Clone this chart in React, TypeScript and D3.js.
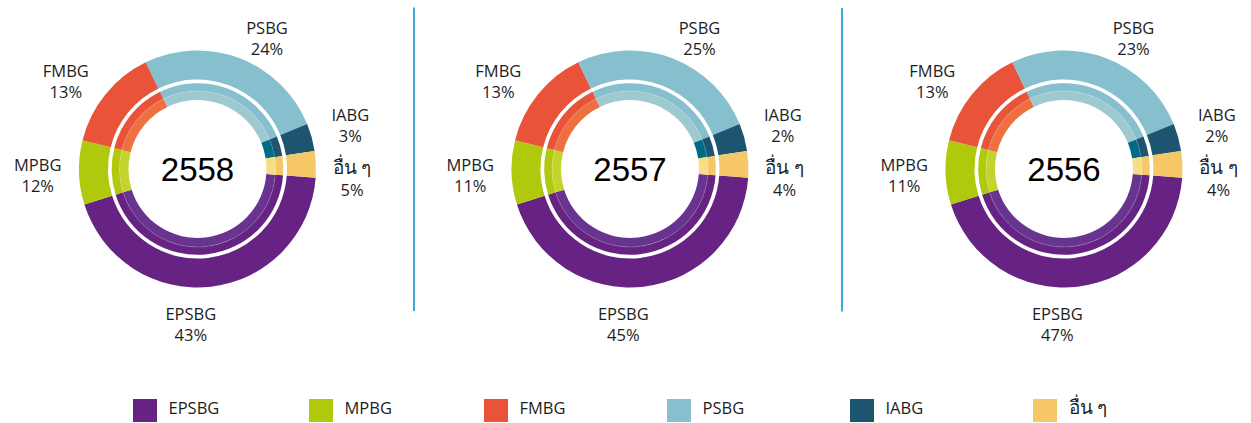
import React from 'react';
import * as d3 from 'd3';

// ---- data ----
const groups = ['EPSBG', 'MPBG', 'FMBG', 'PSBG', 'IABG', 'อื่น ๆ'];
const years = ['2558', '2557', '2556'];
const pct2558 = [43, 12, 13, 24, 3, 5];
const pct2557 = [45, 11, 13, 25, 2, 4];
const pct2556 = [47, 11, 13, 23, 2, 4];
// arc sizes as drawn in the picture (same template for all three rings)
const ringShares = [44.0, 8.75, 13.9, 26.0, 3.75, 3.6];

const mainColors = ['#662383', '#b0c90d', '#e8533a', '#86c0ce', '#1d5470', '#f6c766'];
const lightColors = ['#693490', '#c3d52c', '#ee7041', '#9ec9d1', '#006a89', '#f9dc86'];

const W = 1251;
const H = 423;
const centersX = [197.5, 630, 1064];
const cy = 169;
const labelFont = "'Open Sans', 'Noto Sans', sans-serif";

// label placement relative to ring centre: [dx, baseline dy, gap to % line]
const labelPos = [
  [-6.7, 151, 21],
  [-159.8, 1.7, 21],
  [-131.7, -92.3, 21],
  [69.5, -134.7, 21],
  [152.8, -48.3, 21],
  [154.5, 4.5, 22.5],
];

const yearPct = [pct2558, pct2557, pct2556];
const legendX = [133, 309, 484, 667, 850, 1033];

const isThai = (s: string) => /[\u0E00-\u0E7F]/.test(s);

function Donut({ cx, year, pct }: { cx: number; year: string; pct: number[] }) {
  const pie = d3
    .pie<number>()
    .sort(null)
    .value((d) => d)
    .startAngle((94.2 * Math.PI) / 180)
    .endAngle((94.2 * Math.PI) / 180 + 2 * Math.PI);
  const arcs = pie(ringShares);
  const outer = d3.arc<d3.PieArcDatum<number>>().innerRadius(89.5).outerRadius(118.5);
  const midBand = d3.arc<d3.PieArcDatum<number>>().innerRadius(77.8).outerRadius(85.8);
  const inBand = d3.arc<d3.PieArcDatum<number>>().innerRadius(69).outerRadius(78);
  return (
    <g transform={`translate(${cx},${cy})`}>
      {arcs.map((a, i) => (
        <path key={'o' + i} d={outer(a) || ''} fill={mainColors[i]} />
      ))}
      {arcs.map((a, i) => (
        <path key={'m' + i} d={midBand(a) || ''} fill={mainColors[i]} />
      ))}
      {arcs.map((a, i) => (
        <path key={'i' + i} d={inBand(a) || ''} fill={lightColors[i]} />
      ))}
      <circle r={78} fill="none" stroke="#ffffff" strokeOpacity={0.25} strokeWidth={0.8} />
      <text
        x={0}
        y={11.5}
        textAnchor="middle"
        fontFamily="'Liberation Sans', Arial, sans-serif"
        fontSize={33}
        fill="#000"
      >
        {year}
      </text>
      {groups.map((g, i) => (
        <g key={'l' + i}>
          <text
            x={labelPos[i][0]}
            y={labelPos[i][1]}
            textAnchor="middle"
            fontFamily={labelFont}
            fontSize={isThai(g) ? 19 : 16.5}
            fill="#1e1e1e"
          >
            {g}
          </text>
          <text
            x={labelPos[i][0]}
            y={labelPos[i][1] + labelPos[i][2]}
            textAnchor="middle"
            fontFamily={labelFont}
            fontSize={16.5}
            fill="#1e1e1e"
          >
            {pct[i] + '%'}
          </text>
        </g>
      ))}
    </g>
  );
}

export default function App() {
  return (
    <svg
      width={W}
      height={H}
      style={{ position: 'absolute', left: 0, top: 0, background: '#fff' }}
    >
      <rect width={W} height={H} fill="#fff" />
      {years.map((y, k) => (
        <Donut key={y} cx={centersX[k]} year={y} pct={yearPct[k]} />
      ))}
      <line x1={414} x2={414} y1={7.5} y2={311} stroke="#3eaadb" strokeWidth={2} />
      <line x1={842} x2={842} y1={8} y2={311.5} stroke="#3eaadb" strokeWidth={2} />
      {groups.map((g, i) => (
        <g key={'lg' + i}>
          <rect x={legendX[i]} y={399} width={24} height={23} fill={mainColors[i]} />
          <text
            x={legendX[i] + 35.5}
            y={414.3}
            fontFamily={labelFont}
            fontSize={isThai(g) ? 19 : 16.5}
            fill="#1e1e1e"
          >
            {g}
          </text>
        </g>
      ))}
    </svg>
  );
}
